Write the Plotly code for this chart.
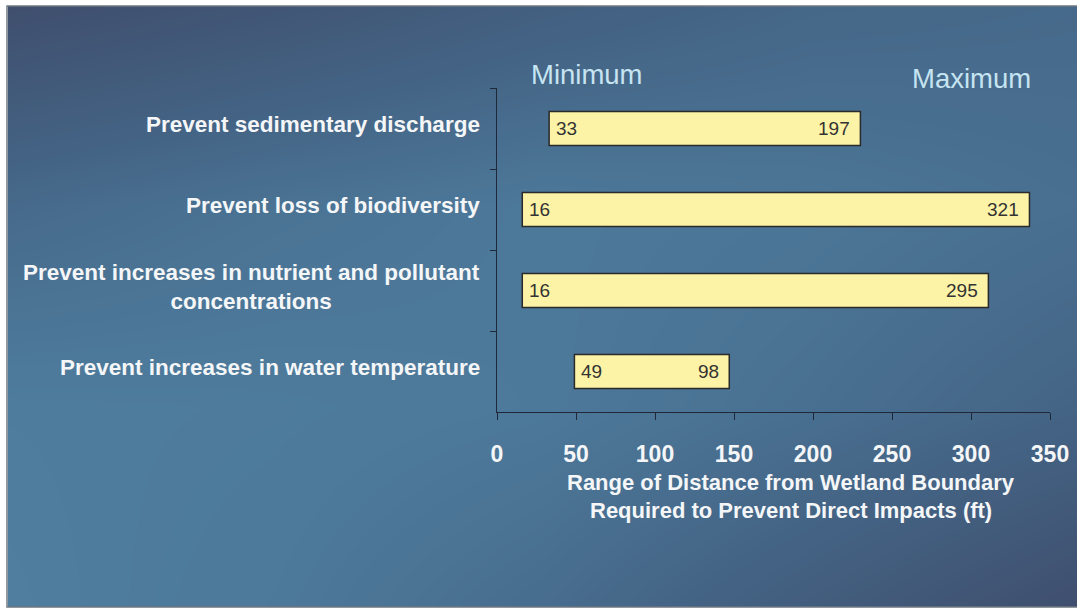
import plotly.graph_objects as go

# ---- data ----
categories = [
    "Prevent sedimentary discharge",
    "Prevent loss of biodiversity",
    "Prevent increases in nutrient and pollutant<br>concentrations",
    "Prevent increases in water temperature",
]
min_values = [33, 16, 16, 49]
max_values = [197, 321, 295, 98]
x_ticks = [0, 50, 100, 150, 200, 250, 300, 350]
x_title_lines = [
    "Range of Distance from Wetland Boundary",
    "Required to Prevent Direct Impacts (ft)",
]
legend_labels = ["Minimum", "Maximum"]

W, H = 1077, 613
ends = [a + b for a, b in zip(min_values, max_values)]
FONT = "Liberation Sans, Arial, sans-serif"

def px(x):
    return x / W

def py(y):
    return (H - y) / H

fig = go.Figure()

# background gradient (decoration) on its own hidden axes, drawn first
bg_z = [
    [0.95, 0.85, 0.65, 0.35, 0.05],   # bottom
    [0.92, 0.90, 0.85, 0.70, 0.50],
    [0.60, 0.75, 0.85, 0.80, 0.70],
    [0.05, 0.20, 0.40, 0.55, 0.60],   # top
]
fig.add_trace(go.Heatmap(
    z=bg_z, x=[0, 1, 2, 3, 4], y=[0, 1, 2, 3],
    zsmooth="best", zmin=0, zmax=1, showscale=False, hoverinfo="skip",
    colorscale=[[0, "#3f4c6b"], [0.5, "#446485"], [1, "#5081a2"]],
    xaxis="x", yaxis="y",
))

# floating bars: start at the minimum, length = maximum value
fig.add_trace(go.Bar(
    y=categories, x=max_values, base=min_values, orientation="h",
    width=0.42,
    marker=dict(color="#fdf3a6", line=dict(color="#2a2a2a", width=1.5)),
    xaxis="x2", yaxis="y2", hoverinfo="skip",
))

annotations = []
for c, lo, hi, e in zip(categories, min_values, max_values, ends):
    annotations.append(dict(
        x=lo, y=c, xref="x2", yref="y2", xanchor="left", yanchor="middle",
        text=str(lo), showarrow=False, xshift=5,
        font=dict(family=FONT, size=19, color="#333333"),
    ))
    annotations.append(dict(
        x=e, y=c, xref="x2", yref="y2", xanchor="right", yanchor="middle",
        text=str(hi), showarrow=False, xshift=-8,
        font=dict(family=FONT, size=19, color="#333333"),
    ))
for c in categories:
    annotations.append(dict(
        x=px(482), xref="paper", y=c, yref="y2", xanchor="right", yanchor="middle",
        text=c, showarrow=False, align="center", yshift=4,
        font=dict(family=FONT, size=22.5, color="#f4f6f8", weight="bold"),
    ))
annotations.append(dict(
    x=px(529), y=py(75), xref="paper", yref="paper", xanchor="left", yanchor="middle",
    text=legend_labels[0], showarrow=False,
    font=dict(family=FONT, size=27.5, color="#c6e4f1"),
))
annotations.append(dict(
    x=px(1033), y=py(78), xref="paper", yref="paper", xanchor="right", yanchor="middle",
    text=legend_labels[1], showarrow=False,
    font=dict(family=FONT, size=27.5, color="#c6e4f1"),
))
for line, yy in zip(x_title_lines, [482, 510]):
    annotations.append(dict(
        x=px(791), y=py(yy), xref="paper", yref="paper", xanchor="center", yanchor="middle",
        text=line, showarrow=False,
        font=dict(family=FONT, size=22, color="#f4f6f8", weight="bold"),
    ))

fig.update_layout(
    width=W, height=H,
    autosize=False,
    margin=dict(l=0, r=0, t=0, b=0, pad=0, autoexpand=False),
    paper_bgcolor="white",
    plot_bgcolor="rgba(0,0,0,0)",
    showlegend=False,
    xaxis=dict(domain=[px(8), 1], range=[0, 4], visible=False, fixedrange=True),
    yaxis=dict(domain=[py(607), py(6)], range=[0, 3], visible=False, fixedrange=True),
    xaxis2=dict(
        domain=[px(497), px(1050)], anchor="y2", range=[0, 350],
        tickvals=x_ticks, ticktext=[str(t) for t in x_ticks],
        showgrid=False, zeroline=False, showline=True, linecolor="#1e2838", linewidth=1,
        ticks="outside", ticklen=7, tickcolor="#1e2838", ticklabelstandoff=14,
        tickfont=dict(family=FONT, size=23, color="#f4f6f8", weight="bold"),
        automargin=False,
    ),
    yaxis2=dict(
        domain=[py(412), py(88)], anchor="x2",
        type="category", categoryorder="array", categoryarray=categories,
        autorange="reversed",
        showgrid=False, zeroline=False, showline=True, linecolor="#1e2838", linewidth=1,
        ticks="outside", ticklen=6, tickcolor="#1e2838", tickson="boundaries",
        showticklabels=False, automargin=False,
    ),
    annotations=annotations,
    shapes=[dict(type="rect", xref="paper", yref="paper",
                 x0=px(7), x1=px(1082), y0=py(607), y1=py(6),
                 line=dict(color="#6f7780", width=1.5), fillcolor="rgba(0,0,0,0)")],
)

fig.write_html(
    "out.html",
    config={"displayModeBar": False},
    post_script=(
        "document.documentElement.style.margin='0';"
        "document.body.style.margin='0';"
        "document.documentElement.style.overflow='hidden';"
        "document.body.style.overflow='hidden';"
    ),
)
